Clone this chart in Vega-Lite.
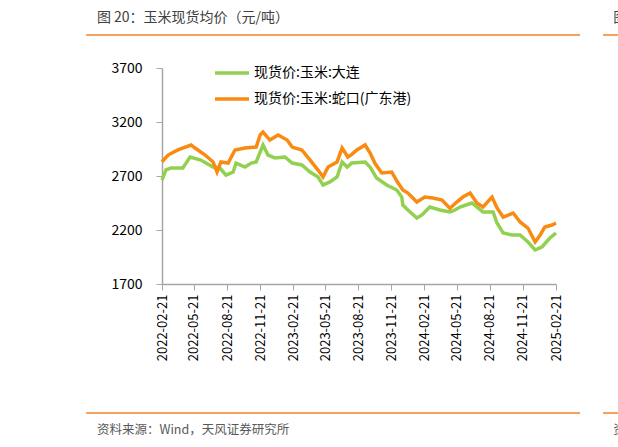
{
  "$schema": "https://vega.github.io/schema/vega-lite/v6.json",
  "width": 394,
  "height": 216,
  "autosize": {"type": "none"},
  "padding": {"left": 162, "top": 68, "right": 62, "bottom": 163},
  "background": "white",
  "config": {"font": "Noto Sans CJK SC", "view": {"stroke": null}},
  "layer": [
    {
      "data": {"values": [
        {"date": "2022-02-21", "series": "现货价:玉米:大连", "value": 2663},
        {"date": "2022-03-04", "series": "现货价:玉米:大连", "value": 2756},
        {"date": "2022-03-18", "series": "现货价:玉米:大连", "value": 2774},
        {"date": "2022-04-20", "series": "现货价:玉米:大连", "value": 2774},
        {"date": "2022-05-10", "series": "现货价:玉米:大连", "value": 2876},
        {"date": "2022-06-09", "series": "现货价:玉米:大连", "value": 2848},
        {"date": "2022-07-13", "series": "现货价:玉米:大连", "value": 2783},
        {"date": "2022-08-01", "series": "现货价:玉米:大连", "value": 2774},
        {"date": "2022-08-18", "series": "现货价:玉米:大连", "value": 2709},
        {"date": "2022-09-07", "series": "现货价:玉米:大连", "value": 2737},
        {"date": "2022-09-15", "series": "现货价:玉米:大连", "value": 2820},
        {"date": "2022-10-10", "series": "现货价:玉米:大连", "value": 2783},
        {"date": "2022-10-27", "series": "现货价:玉米:大连", "value": 2820},
        {"date": "2022-11-10", "series": "现货价:玉米:大连", "value": 2830},
        {"date": "2022-11-21", "series": "现货价:玉米:大连", "value": 2922},
        {"date": "2022-11-29", "series": "现货价:玉米:大连", "value": 2987},
        {"date": "2022-12-13", "series": "现货价:玉米:大连", "value": 2894},
        {"date": "2023-01-01", "series": "现货价:玉米:大连", "value": 2867},
        {"date": "2023-01-29", "series": "现货价:玉米:大连", "value": 2876},
        {"date": "2023-02-18", "series": "现货价:玉米:大连", "value": 2820},
        {"date": "2023-03-17", "series": "现货价:玉米:大连", "value": 2802},
        {"date": "2023-04-09", "series": "现货价:玉米:大连", "value": 2737},
        {"date": "2023-05-01", "series": "现货价:玉米:大连", "value": 2691},
        {"date": "2023-05-15", "series": "现货价:玉米:大连", "value": 2617},
        {"date": "2023-06-03", "series": "现货价:玉米:大连", "value": 2645},
        {"date": "2023-06-23", "series": "现货价:玉米:大连", "value": 2691},
        {"date": "2023-07-07", "series": "现货价:玉米:大连", "value": 2830},
        {"date": "2023-07-21", "series": "现货价:玉米:大连", "value": 2783},
        {"date": "2023-08-03", "series": "现货价:玉米:大连", "value": 2820},
        {"date": "2023-09-09", "series": "现货价:玉米:大连", "value": 2830},
        {"date": "2023-09-23", "series": "现货价:玉米:大连", "value": 2783},
        {"date": "2023-10-11", "series": "现货价:玉米:大连", "value": 2681},
        {"date": "2023-11-08", "series": "现货价:玉米:大连", "value": 2617},
        {"date": "2023-12-06", "series": "现货价:玉米:大连", "value": 2570},
        {"date": "2023-12-20", "series": "现货价:玉米:大连", "value": 2505},
        {"date": "2023-12-23", "series": "现货价:玉米:大连", "value": 2431},
        {"date": "2024-01-06", "series": "现货价:玉米:大连", "value": 2385},
        {"date": "2024-01-31", "series": "现货价:玉米:大连", "value": 2311},
        {"date": "2024-02-14", "series": "现货价:玉米:大连", "value": 2339},
        {"date": "2024-03-07", "series": "现货价:玉米:大连", "value": 2413},
        {"date": "2024-04-04", "series": "现货价:玉米:大连", "value": 2385},
        {"date": "2024-05-02", "series": "现货价:玉米:大连", "value": 2367},
        {"date": "2024-05-16", "series": "现货价:玉米:大连", "value": 2385},
        {"date": "2024-05-30", "series": "现货价:玉米:大连", "value": 2413},
        {"date": "2024-07-02", "series": "现货价:玉米:大连", "value": 2450},
        {"date": "2024-08-02", "series": "现货价:玉米:大连", "value": 2367},
        {"date": "2024-08-30", "series": "现货价:玉米:大连", "value": 2367},
        {"date": "2024-09-10", "series": "现货价:玉米:大连", "value": 2265},
        {"date": "2024-09-27", "series": "现货价:玉米:大连", "value": 2172},
        {"date": "2024-10-22", "series": "现货价:玉米:大连", "value": 2154},
        {"date": "2024-11-13", "series": "现货价:玉米:大连", "value": 2154},
        {"date": "2024-12-05", "series": "现货价:玉米:大连", "value": 2089},
        {"date": "2024-12-25", "series": "现货价:玉米:大连", "value": 2015},
        {"date": "2025-01-13", "series": "现货价:玉米:大连", "value": 2043},
        {"date": "2025-02-04", "series": "现货价:玉米:大连", "value": 2126},
        {"date": "2025-02-21", "series": "现货价:玉米:大连", "value": 2172},
        {"date": "2022-02-21", "series": "现货价:玉米:蛇口(广东港)", "value": 2832},
        {"date": "2022-03-10", "series": "现货价:玉米:蛇口(广东港)", "value": 2894},
        {"date": "2022-04-06", "series": "现货价:玉米:蛇口(广东港)", "value": 2941},
        {"date": "2022-05-13", "series": "现货价:玉米:蛇口(广东港)", "value": 2987},
        {"date": "2022-05-24", "series": "现货价:玉米:蛇口(广东港)", "value": 2959},
        {"date": "2022-06-21", "series": "现货价:玉米:蛇口(广东港)", "value": 2894},
        {"date": "2022-07-13", "series": "现货价:玉米:蛇口(广东港)", "value": 2830},
        {"date": "2022-07-24", "series": "现货价:玉米:蛇口(广东港)", "value": 2737},
        {"date": "2022-08-04", "series": "现货价:玉米:蛇口(广东港)", "value": 2830},
        {"date": "2022-08-24", "series": "现货价:玉米:蛇口(广东港)", "value": 2820},
        {"date": "2022-09-12", "series": "现货价:玉米:蛇口(广东港)", "value": 2941},
        {"date": "2022-10-10", "series": "现货价:玉米:蛇口(广东港)", "value": 2959},
        {"date": "2022-11-10", "series": "现货价:玉米:蛇口(广东港)", "value": 2968},
        {"date": "2022-11-21", "series": "现货价:玉米:蛇口(广东港)", "value": 3080},
        {"date": "2022-11-29", "series": "现货价:玉米:蛇口(广东港)", "value": 3107},
        {"date": "2022-12-18", "series": "现货价:玉米:蛇口(广东港)", "value": 3033},
        {"date": "2023-01-10", "series": "现货价:玉米:蛇口(广东港)", "value": 3080},
        {"date": "2023-02-04", "series": "现货价:玉米:蛇口(广东港)", "value": 3033},
        {"date": "2023-02-18", "series": "现货价:玉米:蛇口(广东港)", "value": 2968},
        {"date": "2023-03-17", "series": "现货价:玉米:蛇口(广东港)", "value": 2941},
        {"date": "2023-04-09", "series": "现货价:玉米:蛇口(广东港)", "value": 2848},
        {"date": "2023-05-01", "series": "现货价:玉米:蛇口(广东港)", "value": 2755},
        {"date": "2023-05-15", "series": "现货价:玉米:蛇口(广东港)", "value": 2691},
        {"date": "2023-05-29", "series": "现货价:玉米:蛇口(广东港)", "value": 2783},
        {"date": "2023-06-23", "series": "现货价:玉米:蛇口(广东港)", "value": 2830},
        {"date": "2023-07-07", "series": "现货价:玉米:蛇口(广东港)", "value": 2959},
        {"date": "2023-07-23", "series": "现货价:玉米:蛇口(广东港)", "value": 2876},
        {"date": "2023-08-03", "series": "现货价:玉米:蛇口(广东港)", "value": 2900},
        {"date": "2023-08-17", "series": "现货价:玉米:蛇口(广东港)", "value": 2941},
        {"date": "2023-09-09", "series": "现货价:玉米:蛇口(广东港)", "value": 2987},
        {"date": "2023-09-23", "series": "现货价:玉米:蛇口(广东港)", "value": 2913},
        {"date": "2023-10-06", "series": "现货价:玉米:蛇口(广东港)", "value": 2820},
        {"date": "2023-10-25", "series": "现货价:玉米:蛇口(广东港)", "value": 2728},
        {"date": "2023-11-22", "series": "现货价:玉米:蛇口(广东港)", "value": 2737},
        {"date": "2023-12-08", "series": "现货价:玉米:蛇口(广东港)", "value": 2644},
        {"date": "2023-12-23", "series": "现货价:玉米:蛇口(广东港)", "value": 2570},
        {"date": "2024-01-06", "series": "现货价:玉米:蛇口(广东港)", "value": 2542},
        {"date": "2024-01-31", "series": "现货价:玉米:蛇口(广东港)", "value": 2459},
        {"date": "2024-02-22", "series": "现货价:玉米:蛇口(广东港)", "value": 2505},
        {"date": "2024-03-16", "series": "现货价:玉米:蛇口(广东港)", "value": 2496},
        {"date": "2024-04-10", "series": "现货价:玉米:蛇口(广东港)", "value": 2478},
        {"date": "2024-05-02", "series": "现货价:玉米:蛇口(广东港)", "value": 2400},
        {"date": "2024-05-21", "series": "现货价:玉米:蛇口(广东港)", "value": 2459},
        {"date": "2024-06-07", "series": "现货价:玉米:蛇口(广东港)", "value": 2505},
        {"date": "2024-06-27", "series": "现货价:玉米:蛇口(广东港)", "value": 2542},
        {"date": "2024-07-16", "series": "现货价:玉米:蛇口(广东港)", "value": 2450},
        {"date": "2024-08-02", "series": "现货价:玉米:蛇口(广东港)", "value": 2413},
        {"date": "2024-08-27", "series": "现货价:玉米:蛇口(广东港)", "value": 2505},
        {"date": "2024-09-10", "series": "现货价:玉米:蛇口(广东港)", "value": 2404},
        {"date": "2024-09-27", "series": "现货价:玉米:蛇口(广东港)", "value": 2320},
        {"date": "2024-10-25", "series": "现货价:玉米:蛇口(广东港)", "value": 2357},
        {"date": "2024-11-13", "series": "现货价:玉米:蛇口(广东港)", "value": 2274},
        {"date": "2024-12-05", "series": "现货价:玉米:蛇口(广东港)", "value": 2218},
        {"date": "2024-12-25", "series": "现货价:玉米:蛇口(广东港)", "value": 2089},
        {"date": "2025-01-08", "series": "现货价:玉米:蛇口(广东港)", "value": 2154},
        {"date": "2025-01-21", "series": "现货价:玉米:蛇口(广东港)", "value": 2228},
        {"date": "2025-02-10", "series": "现货价:玉米:蛇口(广东港)", "value": 2246},
        {"date": "2025-02-21", "series": "现货价:玉米:蛇口(广东港)", "value": 2265}
      ]},
      "mark": {"type": "line", "strokeWidth": 3.5, "interpolate": "linear"},
      "encoding": {
        "x": {
          "field": "date", "type": "temporal",
          "scale": {"type": "utc", "domain": [{"year": 2022, "month": 2, "date": 21, "utc": true}, {"year": 2025, "month": 2, "date": 21, "utc": true}]},
          "axis": {
            "title": null, "format": "%Y-%m-%d", "labelAngle": 270, "labelFontSize": 13, "labelColor": "#000000",
            "labelPadding": 4, "tickSize": 6, "tickColor": "#A6A6A6", "domainColor": "#A6A6A6", "domainWidth": 1.5, "grid": false,
            "labelOverlap": false, "labelBound": false, "labelFlush": false, "tickCount": 20,
            "values": [
              {"year": 2022, "month": 2, "date": 21, "utc": true},
              {"year": 2022, "month": 5, "date": 21, "utc": true},
              {"year": 2022, "month": 8, "date": 21, "utc": true},
              {"year": 2022, "month": 11, "date": 21, "utc": true},
              {"year": 2023, "month": 2, "date": 21, "utc": true},
              {"year": 2023, "month": 5, "date": 21, "utc": true},
              {"year": 2023, "month": 8, "date": 21, "utc": true},
              {"year": 2023, "month": 11, "date": 21, "utc": true},
              {"year": 2024, "month": 2, "date": 21, "utc": true},
              {"year": 2024, "month": 5, "date": 21, "utc": true},
              {"year": 2024, "month": 8, "date": 21, "utc": true},
              {"year": 2024, "month": 11, "date": 21, "utc": true},
              {"year": 2025, "month": 2, "date": 21, "utc": true}
            ]
          }
        },
        "y": {
          "field": "value", "type": "quantitative",
          "scale": {"domain": [1700, 3700], "nice": false, "zero": false},
          "axis": {
            "title": null, "values": [1700, 2200, 2700, 3200, 3700], "format": "d", "labelFontSize": 14, "labelColor": "#000000",
            "labelPadding": 14, "tickSize": 6, "tickColor": "#A6A6A6", "domainColor": "#A6A6A6", "domainWidth": 1.5, "grid": false
          }
        },
        "color": {
          "field": "series", "type": "nominal",
          "scale": {"domain": ["现货价:玉米:大连", "现货价:玉米:蛇口(广东港)"], "range": ["#92D050", "#F98A12"]},
          "legend": {
            "title": null, "orient": "none", "legendX": 51, "legendY": -14, "direction": "vertical",
            "symbolType": "stroke", "symbolSize": 1156, "symbolStrokeWidth": 3.5, "labelFontSize": 14, "labelColor": "#000000",
            "labelOffset": 3, "rowPadding": -4
          }
        }
      }
    },
    {
      "data": {"values": [{}]},
      "mark": {"type": "rule", "color": "#F4822A", "strokeWidth": 1.5, "clip": false},
      "encoding": {
        "x": {"datum": {"year": 2021, "month": 7, "date": 25, "utc": true}, "type": "temporal"},
        "x2": {"datum": {"year": 2025, "month": 4, "date": 29, "utc": true}},
        "y": {"datum": 4005}
      }
    },
    {
      "data": {"values": [{}]},
      "mark": {"type": "rule", "color": "#F4822A", "strokeWidth": 1.5, "clip": false},
      "encoding": {
        "x": {"datum": {"year": 2021, "month": 7, "date": 25, "utc": true}, "type": "temporal"},
        "x2": {"datum": {"year": 2025, "month": 4, "date": 29, "utc": true}},
        "y": {"datum": 505}
      }
    },
    {
      "data": {"values": [{}]},
      "mark": {"type": "rule", "color": "#F4822A", "strokeWidth": 1.5, "clip": false},
      "encoding": {
        "x": {"datum": {"year": 2025, "month": 7, "date": 2, "utc": true}, "type": "temporal"},
        "x2": {"datum": {"year": 2025, "month": 10, "date": 13, "utc": true}},
        "y": {"datum": 4005}
      }
    },
    {
      "data": {"values": [{}]},
      "mark": {"type": "rule", "color": "#F4822A", "strokeWidth": 1.5, "clip": false},
      "encoding": {
        "x": {"datum": {"year": 2025, "month": 7, "date": 2, "utc": true}, "type": "temporal"},
        "x2": {"datum": {"year": 2025, "month": 10, "date": 13, "utc": true}},
        "y": {"datum": 505}
      }
    },
    {
      "data": {"values": [{}]},
      "mark": {"type": "text", "align": "left", "baseline": "middle", "fontSize": 14, "color": "#404040", "clip": false},
      "encoding": {
        "x": {"datum": {"year": 2021, "month": 8, "date": 24, "utc": true}, "type": "temporal"},
        "y": {"datum": 4163},
        "text": {"value": "图 20：玉米现货均价（元/吨）"}
      }
    },
    {
      "data": {"values": [{}]},
      "mark": {"type": "text", "align": "left", "baseline": "middle", "fontSize": 14, "color": "#404040", "clip": false},
      "encoding": {
        "x": {"datum": {"year": 2025, "month": 7, "date": 30, "utc": true}, "type": "temporal"},
        "y": {"datum": 4163},
        "text": {"value": "图"}
      }
    },
    {
      "data": {"values": [{}]},
      "mark": {"type": "text", "align": "left", "baseline": "middle", "fontSize": 12.5, "color": "#595959", "clip": false},
      "encoding": {
        "x": {"datum": {"year": 2021, "month": 8, "date": 24, "utc": true}, "type": "temporal"},
        "y": {"datum": 348},
        "text": {"value": "资料来源：Wind，天风证券研究所"}
      }
    },
    {
      "data": {"values": [{}]},
      "mark": {"type": "text", "align": "left", "baseline": "middle", "fontSize": 12.5, "color": "#595959", "clip": false},
      "encoding": {
        "x": {"datum": {"year": 2025, "month": 7, "date": 30, "utc": true}, "type": "temporal"},
        "y": {"datum": 348},
        "text": {"value": "资"}
      }
    }
  ]
}
